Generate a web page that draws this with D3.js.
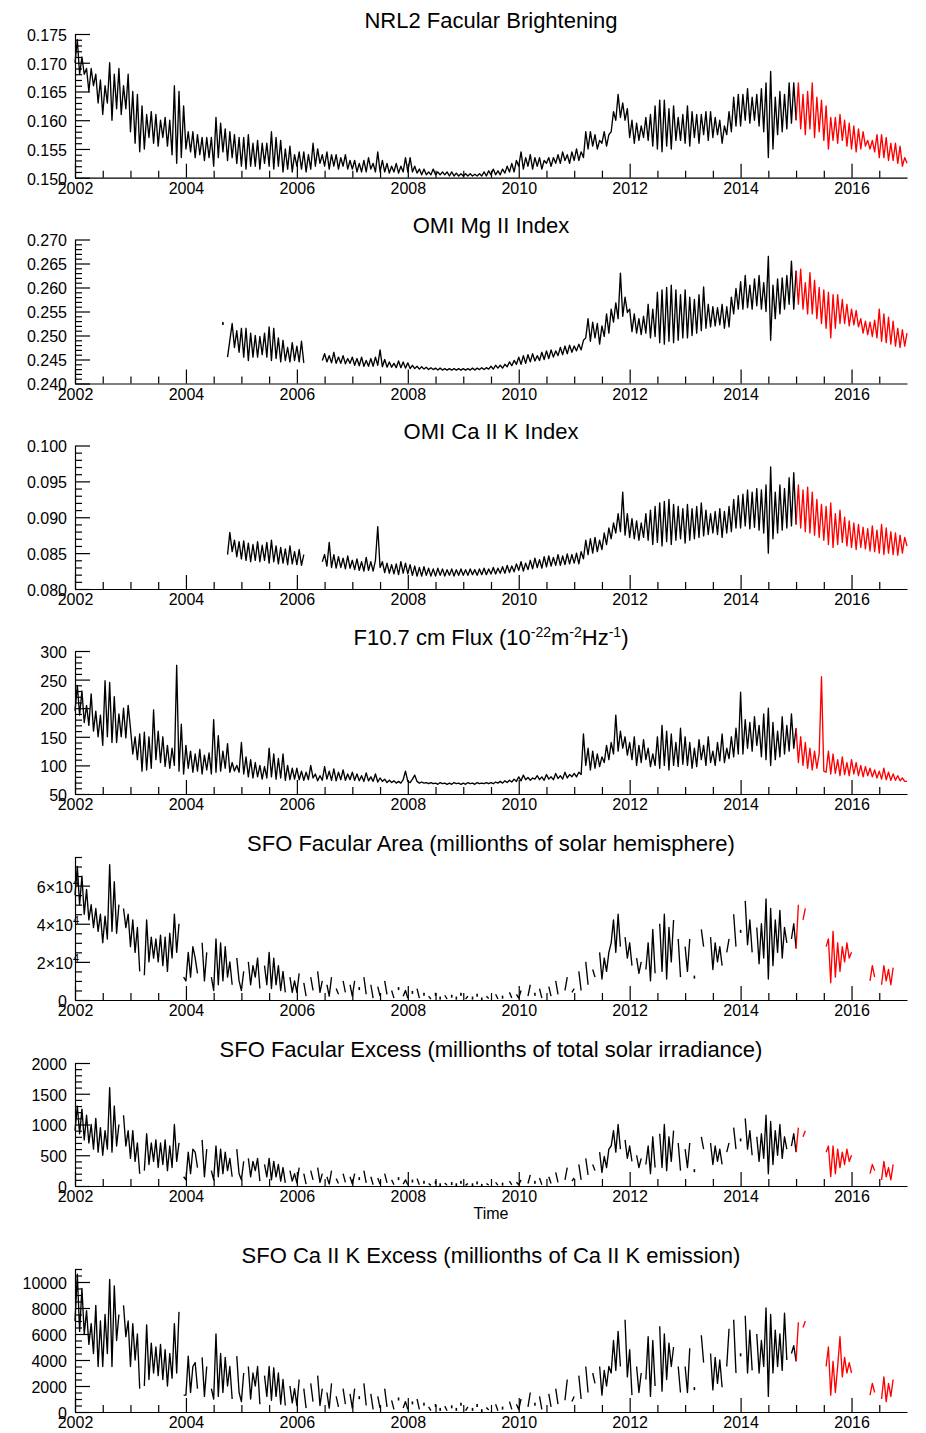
<!DOCTYPE html>
<html>
<head>
<meta charset="utf-8">
<script src="https://cdn.jsdelivr.net/npm/d3@7"></script>
<style>
  body { margin: 0; background: #fff; }
  svg text { font-family: "Liberation Sans", Arial, Helvetica, sans-serif; fill: #000; }
</style>
</head>
<body>
<svg id="chart" width="926" height="1433"></svg>
<script>
// Missing days are written as _ (null) so the line breaks there.
const _ = null;
// Samples are spaced 1/24 year apart (about half a month).
const STEP = 1 / 24;
// Samples from this date onward are drawn in red.
const SPLIT = 2015;

const xTicks = [2002, 2004, 2006, 2008, 2010, 2012, 2014, 2016];

// NRL2 facular brightening, from 2002.0
const nrl2Start = 2002;
const nrl2 = [
  .170,.174,.168,.171,.168,.169,.165,.169,.166,.168,.163,.167,.161,.166,.163,.170,.160,.168,.162,.169,.161,.166,.162,.168,
  .158,.165,.156,.1645,.1545,.1625,.155,.161,.157,.1615,.156,.161,.1555,.160,.157,.1605,.1555,.160,.154,.166,.1525,.165,.1535,.1625,
  .155,.158,.1545,.158,.1535,.1575,.154,.157,.153,.157,.1535,.157,.152,.1605,.1535,.1595,.1545,.1585,.153,.158,.1535,.1575,.1525,.157,
  .152,.157,.1515,.1575,.152,.156,.152,.1565,.1515,.156,.1525,.156,.152,.158,.1515,.157,.152,.1565,.151,.155,.1515,.1555,.151,.154,
  .152,.1545,.1515,.1545,.151,.154,.1515,.156,.152,.155,.1525,.154,.152,.1545,.1515,.154,.152,.154,.1515,.1535,.152,.154,.1515,.153,
  .1515,.153,.151,.1525,.151,.153,.151,.1535,.1515,.1525,.151,.1545,.151,.153,.151,.1525,.1508,.152,.151,.1525,.1508,.152,.151,.1535,
  .151,.1535,.151,.152,.1508,.1515,.1505,.1515,.1505,.151,.1505,.1515,.1505,.151,.1505,.151,.1505,.151,.1503,.151,.1503,.1508,.1503,.1507,
  .1503,.1507,.1503,.1507,.1503,.1506,.1503,.1507,.1503,.151,.1503,.1512,.1505,.1515,.1505,.1512,.1505,.1515,.1508,.152,.151,.1525,.151,.153,
  .152,.1545,.1515,.1535,.152,.154,.1515,.1535,.152,.1535,.1515,.153,.1525,.1535,.152,.1535,.1525,.154,.1525,.1545,.153,.154,.1525,.1545,
  .153,.155,.153,.1545,.1535,.158,.155,.158,.1555,.1575,.155,.1565,.156,.158,.1555,.1575,.158,.1615,.160,.1645,.1605,.163,.160,.162,
  .157,.160,.156,.1595,.1565,.159,.157,.1605,.1565,.161,.1555,.1625,.155,.1635,.1545,.1635,.1555,.162,.155,.1625,.1565,.1605,.1565,.161,
  .156,.1625,.1555,.1615,.157,.161,.156,.161,.1575,.1615,.1565,.1615,.157,.1605,.1575,.160,.156,.159,.1575,.1615,.158,.164,.159,.1645,
  .159,.1645,.160,.1655,.1595,.164,.160,.1645,.159,.1655,.158,.1665,.1535,.1685,.155,.164,.1575,.165,.158,.1645,.1585,.1665,.1595,.1665,
  .160,.1665,.1585,.1645,.1575,.165,.1585,.1665,.157,.164,.158,.1635,.1565,.1625,.155,.1605,.1565,.1605,.156,.161,.1565,.160,.1555,.1595,
  .155,.159,.1545,.1585,.155,.158,.1555,.1565,.155,.1565,.1545,.1575,.1535,.1575,.1535,.157,.153,.156,.153,.156,.1525,.1555,.152,.1535,
  .1525
];

// OMI Mg II index, from 2004.0
const omiMg2Start = 2004;
const omiMg2 = [
  _,_,_,_,_,_,_,_,_,_,_,_,_,_,_,_,.2525,_,.2455,.249,.2525,.2475,.251,.2465,
  .2515,.2455,.2515,.2448,.2505,.2455,.250,.2455,.2498,.246,.2505,.2455,.2518,.2448,.2515,.2452,.2495,.2445,.249,.2448,.2475,.2445,.2485,.2448,
  .2478,.2445,.2488,.2443,_,_,_,_,_,_,_,.2448,.2462,.2445,.2458,.2443,.2465,.2442,.2455,.2442,.2458,.2441,.2452,.2442,
  .2455,.2438,.2452,.2437,.2455,.2436,.2448,.2436,.2452,.2436,.2455,.2438,.247,.2435,.245,.2434,.2445,.2434,.2442,.2433,.2447,.2433,.2445,.2432,
  .2443,.2431,.2438,.2431,.2436,.243,.2435,.243,.2434,.2429,.2433,.2429,.2432,.2428,.2432,.2428,.2431,.2428,.2431,.2428,.2431,.2428,.2431,.2428,
  .2431,.2428,.2431,.2428,.2432,.2428,.2432,.2429,.2433,.2429,.2433,.243,.2436,.243,.2438,.2432,.2438,.2432,.244,.2435,.2445,.2437,.2448,.244,
  .2455,.244,.2458,.2442,.246,.2445,.2462,.2447,.2458,.2448,.2465,.245,.2468,.2452,.247,.2455,.2468,.2458,.2475,.246,.2478,.2462,.248,.2465,
  .2478,.2468,.2482,.247,.249,.2495,.2535,.2488,.2528,.2495,.2525,.2482,.252,.2498,.2545,.2505,.2555,.2528,.2568,.2535,.263,.254,.258,.2548,
  .2555,.2508,.2545,.2505,.2535,.2502,.254,.2505,.2565,.2495,.2555,.2498,.259,.2485,.2595,.2482,.260,.2488,.2605,.2485,.2595,.249,.2585,.2495,
  .2595,.2495,.258,.250,.2575,.2505,.2585,.251,.2601,.2515,.2565,.2518,.256,.252,.2558,.2522,.2565,.2515,.256,.2518,.258,.2545,.2598,.2555,
  .2612,.2555,.2625,.2558,.2605,.2555,.2618,.2562,.2625,.2555,.261,.255,.2665,.249,.2605,.2535,.2618,.2545,.262,.2555,.2625,.2565,.2655,.2555,
  .2635,.2565,.2638,.2555,.261,.2545,.2631,.2545,.2615,.2535,.260,.2525,.2595,.2515,.259,.2495,.2585,.2515,.2585,.2525,.2575,.2525,.2565,.252,
  .2555,.2522,.2552,.2518,.2535,.2505,.253,.2502,.2528,.2498,.2532,.2495,.2555,.2488,.2545,.2485,.2538,.2482,.253,.2478,.2515,.2475,.2512,.2478,
  .2505
];

// OMI Ca II K index, from 2004.0
const omiCaKStart = 2004;
const omiCaK = [
  _,_,_,_,_,_,_,_,_,_,_,_,_,_,_,_,_,_,.0848,.0879,.0852,.0868,.0845,.0866,
  .0842,.0867,.0840,.0864,.0838,.0862,.0840,.0866,.0838,.0861,.0840,.0865,.0836,.0868,.0838,.0860,.0835,.0858,.0836,.0856,.0834,.0860,.0835,.0852,
  .0834,.0855,.0833,.0848,_,_,_,_,_,_,_,.0838,.0848,.0832,.0865,.0830,.0848,.0829,.0845,.0830,.0843,.0828,.0846,.0829,
  .0840,.0827,.0842,.0826,.0838,.0825,.0844,.0826,.0838,.0825,.0840,.0887,.0830,.0838,.0823,.0836,.0822,.0834,.0821,.0835,.0820,.0838,.0822,.0836,
  .0821,.0834,.0819,.0832,.0818,.0830,.0818,.0831,.0819,.0829,.0818,.0828,.0818,.0829,.0819,.0828,.0818,.0827,.0819,.0828,.0818,.0827,.0819,.0828,
  .0819,.0827,.0819,.0828,.0820,.0827,.0819,.0828,.0820,.0829,.0820,.0828,.0821,.0830,.0821,.0829,.0822,.0831,.0822,.0833,.0823,.0832,.0824,.0835,
  .0826,.0838,.0825,.0836,.0827,.0840,.0828,.0843,.0830,.0841,.0829,.0845,.0831,.0846,.0832,.0844,.0833,.0848,.0833,.0846,.0834,.0849,.0835,.0848,
  .0836,.0850,.0835,.0852,.0842,.0868,.0848,.0870,.0850,.0872,.0852,.0868,.0855,.0878,.0862,.0885,.0870,.0892,.0878,.0905,.0880,.0935,.0875,.0905,
  .0872,.0898,.0870,.0895,.0868,.0892,.0872,.0905,.0868,.0910,.0862,.0915,.0865,.0920,.0860,.0922,.0866,.0925,.0862,.0918,.0868,.0915,.0870,.0912,
  .0864,.0918,.0868,.0912,.0870,.0915,.0872,.0920,.0874,.0910,.0876,.0905,.0878,.0908,.0876,.0912,.0872,.0908,.0878,.0915,.0880,.0925,.0885,.0930,
  .0885,.0932,.0888,.0938,.0884,.0935,.0886,.0940,.0882,.0938,.0878,.0945,.0850,.0970,.0870,.0935,.0878,.0945,.0882,.0940,.0885,.0955,.0888,.0962,
  .0890,.0945,.0885,.0938,.0880,.0942,.0878,.0935,.0875,.0925,.0872,.0918,.0868,.0915,.0862,.0920,.0858,.0905,.0862,.0910,.0865,.0900,.0860,.0895,
  .0858,.0892,.0855,.0890,.0858,.0886,.0856,.0884,.0853,.0888,.0852,.0882,.0850,.0890,.0848,.0885,.0850,.0880,.0848,.0878,.0847,.0875,.0850,.0872,
  .0860
];

// F10.7 cm radio flux, from 2002.0
const f107Start = 2002;
const f107 = [
  195,240,188,230,175,205,170,225,160,195,150,188,135,248,150,245,140,220,140,190,150,200,148,205,
  165,120,150,110,155,90,158,92,150,95,197,110,160,105,150,98,135,95,130,100,275,90,172,85,
  135,95,125,88,120,90,128,85,118,92,122,85,180,88,152,90,125,95,138,88,105,90,100,88,
  140,85,115,80,110,78,105,80,100,76,98,78,130,80,120,76,112,78,120,74,100,75,95,76,
  95,75,90,74,88,75,100,78,85,73,82,74,98,76,90,74,94,73,88,75,92,74,85,75,
  88,74,85,73,82,72,87,73,80,72,85,71,78,72,76,70,74,70,73,69,72,69,75,90,
  72,70,76,83,72,69,71,69,70,68,70,68,69,67,70,68,69,67,69,67,70,68,69,67,
  69,67,70,68,69,67,70,68,69,68,70,68,70,68,71,69,72,69,73,70,74,71,76,72,
  80,73,83,75,79,74,78,76,82,75,80,74,84,76,80,75,86,77,82,76,88,78,84,80,
  86,80,88,84,155,100,130,92,125,95,120,98,115,105,135,110,140,120,188,125,160,130,150,118,
  140,110,150,100,135,105,145,110,130,98,120,100,150,95,170,100,160,92,155,100,140,98,165,102,
  150,100,140,95,130,98,145,110,135,100,150,105,125,100,140,108,155,105,130,112,150,115,165,120,
  228,120,180,130,175,125,185,135,170,115,190,110,200,100,175,110,160,115,185,120,170,125,190,130,
  165,105,150,100,140,95,130,92,125,95,120,255,90,88,125,85,120,86,110,82,115,84,105,82,
  110,85,105,82,100,80,98,82,95,80,92,78,90,76,95,75,88,74,85,74,82,73,78,72,
  72
];

// SFO facular area, millionths of solar hemisphere, from 2002.0
const sfoAreaStart = 2002;
const sfoArea = [
  55000,70000,50000,65000,45000,58000,42000,50000,38000,48000,36000,45000,30000,44000,32000,71000,36000,62000,35000,50000,_,48000,38000,45000,
  28000,42000,25000,38000,15000,_,13000,42000,20000,33000,22000,32000,20000,34000,18000,33000,15000,35000,22000,45000,25000,40000,_,12000,
  10000,25000,12000,28000,22000,14000,_,30000,10000,25000,_,12000,5000,32000,8000,30000,10000,28000,12000,20000,8000,_,22000,10000,
  5000,15000,_,20000,8000,18000,12000,22000,6000,_,18000,8000,25000,6000,22000,8000,18000,5000,15000,4000,_,12000,4000,10000,
  4000,14000,_,9000,2000,_,12000,5000,_,15000,4000,10000,_,8000,2000,12000,_,6000,3000,_,10000,4000,_,8000,
  2000,10000,_,6000,_,12000,3000,_,8000,1000,_,7000,2000,_,10000,3000,_,5000,1000,_,6000,_,2000,5000,
  1000,_,4000,_,6000,1000,_,3000,_,2000,500,_,3000,_,1000,_,2500,500,_,2000,_,1000,_,3000,
  _,500,2000,_,1000,_,2500,_,500,_,2000,800,_,_,3000,500,_,1500,_,_,4000,1000,_,3000,
  1000,5000,_,_,2000,8000,_,3000,_,6000,1000,_,_,7000,2000,_,10000,3000,_,_,5000,12000,_,4000,
  6000,_,15000,5000,_,20000,8000,_,16000,12000,_,25000,11000,22000,15000,25000,30000,42000,25000,45000,28000,_,33000,22000,
  30000,18000,_,22000,14000,20000,_,16000,30000,10000,37000,14000,_,40000,15000,45000,11000,38000,20000,42000,_,32000,12000,_,
  28000,15000,32000,_,12000,_,_,37000,28000,_,_,33000,16000,30000,20000,28000,18000,_,25000,32000,_,45000,28000,_,
  36000,_,52000,29000,42000,25000,_,38000,19000,40000,22000,53000,11000,48000,18000,42000,25000,47000,22000,38000,30000,_,32000,40000,
  27000,50000,_,42000,48000,_,_,_,_,_,_,_,_,28000,32000,9000,36000,12000,30000,15000,28000,20000,30000,22000,
  25000,_,_,_,_,_,_,_,10000,18000,12000,_,_,8000,18000,10000,16000,8000,17000,_,_,_,_,_
];

// SFO facular excess, millionths of total solar irradiance, from 2002.0
const sfoExcessStart = 2002;
const sfoExcess = [
  900,1300,850,1250,750,1150,700,1000,600,1100,550,950,500,900,600,1600,550,1300,650,1000,_,1150,650,900,
  450,900,400,700,200,_,250,850,350,700,400,750,300,700,350,750,250,650,300,1000,400,700,_,150,
  100,550,200,600,550,300,_,750,150,600,_,250,100,650,150,600,200,550,250,450,150,_,600,200,
  100,400,_,450,150,400,250,450,80,_,350,150,450,100,400,150,350,80,300,50,_,250,80,200,
  50,300,_,200,30,_,250,100,_,300,60,200,_,150,30,250,_,120,40,_,200,60,_,150,
  30,200,_,120,_,250,50,_,150,20,_,130,30,_,200,50,_,100,20,_,120,_,30,100,
  20,_,80,_,120,20,_,60,_,40,10,_,60,_,20,_,50,10,_,40,_,20,_,60,
  _,10,40,_,20,_,50,_,10,_,40,15,_,_,60,10,_,30,_,_,80,20,_,60,
  20,100,_,_,40,180,_,60,_,130,20,_,_,150,40,_,220,60,_,_,100,300,_,80,
  130,_,350,100,_,450,180,_,350,250,_,550,220,480,300,600,650,900,550,1000,600,_,750,450,
  650,400,_,500,300,450,_,350,650,200,800,300,_,850,300,1000,250,800,400,900,_,700,250,_,
  600,300,700,_,250,_,_,800,600,_,_,700,350,650,400,600,350,_,550,700,_,950,600,_,
  750,_,1100,600,900,500,_,800,400,850,450,1150,200,1050,350,900,500,1000,450,800,600,_,650,850,
  550,950,_,800,900,_,_,_,_,_,_,_,_,550,650,150,650,200,600,300,550,350,600,400,
  500,_,_,_,_,_,_,_,200,350,250,_,_,100,400,150,300,100,350,_,_,_,_,_
];

// SFO Ca II K excess, millionths of Ca II K emission, from 2002.0
const sfoCaKStart = 2002;
const sfoCaK = [
  7000,10600,6200,9500,6000,7800,5200,6800,4500,8200,3500,7000,3500,7500,4500,10200,3500,9700,5500,7500,_,8200,5800,7000,
  3500,6800,4000,6000,1800,_,2000,6700,2500,5300,3000,5000,2800,5200,2500,4800,2000,4500,2600,6800,3000,7700,_,1300,
  1300,4300,1500,3500,3800,1800,_,4200,1200,3500,_,1800,1000,6000,1200,4500,1500,4200,2000,3500,1000,_,4300,1500,
  800,3000,_,3500,1000,3000,2000,3500,600,_,2800,1200,3500,900,3400,1200,3000,600,2500,500,_,2000,700,1800,
  500,2500,_,1800,300,_,2200,800,_,2800,500,1800,_,1500,300,2200,_,1200,400,_,1800,600,_,1400,
  300,1800,_,1100,_,2200,500,_,1400,200,_,1200,300,_,1800,400,_,900,200,_,1000,_,300,800,
  200,_,700,_,1000,200,_,600,_,400,100,_,500,_,200,_,450,100,_,400,_,200,_,600,
  _,100,400,_,200,_,500,_,100,_,350,150,_,_,600,100,_,300,_,_,800,200,_,600,
  200,1000,_,_,400,1500,_,600,_,1200,200,_,_,1400,400,_,1800,600,_,_,900,2500,_,800,
  1200,_,2800,1000,_,3500,1500,_,3000,2200,_,3500,1300,3200,2000,3500,3000,5500,3200,6200,3500,_,7100,2700,
  4800,1300,_,3500,1500,3000,_,2500,5800,1200,5500,2000,_,6600,1600,6000,2500,5300,3500,5000,_,3500,1500,_,
  3500,1500,4900,_,1800,_,_,5900,3800,_,_,4500,1700,4200,2200,4000,1900,_,3500,6400,_,7100,3000,_,
  4400,_,7400,3000,6300,3200,_,6000,3000,5500,3500,8000,1200,7500,3000,6300,3500,6000,3200,7600,4000,_,4500,5100,
  3900,6900,_,6500,7000,_,_,_,_,_,_,_,_,3500,5000,1300,3900,1500,3500,5800,2700,4200,3000,3800,
  3000,_,_,_,_,_,_,_,1300,2200,1500,_,_,1000,2700,800,2200,1200,2500,_,_,_,_,_
];

// y-axis labelled ticks for each panel
const nrl2Ticks = [0.150, 0.155, 0.160, 0.165, 0.170, 0.175];
const omiMg2Ticks = [0.240, 0.245, 0.250, 0.255, 0.260, 0.265, 0.270];
const omiCaKTicks = [0.080, 0.085, 0.090, 0.095, 0.100];
const f107Ticks = [50, 100, 150, 200, 250, 300];
const sfoAreaTicks = [0, 20000, 40000, 60000];
const sfoExcessTicks = [0, 500, 1000, 1500, 2000];
const sfoCaKTicks = [0, 2000, 4000, 6000, 8000, 10000];

const FONT = '"Liberation Sans", Arial, Helvetica, sans-serif';
const svg = d3.select('#chart');
const x = d3.scaleLinear().domain([2002, 2017]).range([75, 907]);
const xMinor = d3.range(2002.5, 2017, 0.5).filter(v => !xTicks.includes(v));

const fmt3 = d3.format('.3f');
const fmtInt = d3.format('d');

const panels = [
  { title: [['NRL2 Facular Brightening']], data: nrl2, start: nrl2Start,
    top: 34, bottom: 177.7, domain: [0.150, 0.175], ticks: nrl2Ticks, minorStep: 0.001, format: fmt3 },
  { title: [['OMI Mg II Index']], data: omiMg2, start: omiMg2Start,
    top: 239.5, bottom: 383.5, domain: [0.240, 0.270], ticks: omiMg2Ticks, minorStep: 0.001, format: fmt3 },
  { title: [['OMI Ca II K Index']], data: omiCaK, start: omiCaKStart,
    top: 445.5, bottom: 589, domain: [0.080, 0.100], ticks: omiCaKTicks, minorStep: 0.001, format: fmt3 },
  { title: [['F10.7 cm Flux (10'], ['-22', true], ['m'], ['-2', true], ['Hz'], ['-1', true], [')']],
    data: f107, start: f107Start,
    top: 651, bottom: 794, domain: [50, 300], ticks: f107Ticks, minorStep: 10, format: fmtInt },
  { title: [['SFO Facular Area (millionths of solar hemisphere)']], data: sfoArea, start: sfoAreaStart,
    top: 857, bottom: 1000, domain: [0, 75000], ticks: sfoAreaTicks, minorStep: 5000, format: 'power' },
  { title: [['SFO Facular Excess (millionths of total solar irradiance)']], data: sfoExcess, start: sfoExcessStart,
    top: 1063, bottom: 1186, domain: [0, 2000], ticks: sfoExcessTicks, minorStep: 100, format: fmtInt },
  { title: [['SFO Ca II K Excess (millionths of Ca II K emission)']], data: sfoCaK, start: sfoCaKStart,
    top: 1269, bottom: 1412, domain: [0, 11000], ticks: sfoCaKTicks, minorStep: 500, format: fmtInt }
];

function styleAxis(g) {
  g.attr('font-family', FONT).attr('font-size', 16);
  g.selectAll('.domain').attr('stroke', '#000').attr('stroke-width', 1.2);
  g.selectAll('.tick line').attr('stroke', '#000').attr('stroke-width', 1.2);
  g.selectAll('.tick text').attr('fill', '#000');
}

panels.forEach(p => {
  const y = d3.scaleLinear().domain(p.domain).range([p.bottom, p.top]);
  const g = svg.append('g');

  // title, with superscript pieces raised
  const title = g.append('text')
    .attr('x', 491).attr('y', p.top - 6.5)
    .attr('text-anchor', 'middle').attr('font-size', 22);
  let raised = false;
  p.title.forEach(([txt, sup]) => {
    const t = title.append('tspan').text(txt);
    if (sup && !raised) { t.attr('dy', -8).attr('font-size', 14); raised = true; }
    else if (sup) { t.attr('font-size', 14); }
    else if (raised) { t.attr('dy', 8); raised = false; }
  });

  // series line, split into a black part and a red part
  const pts = p.data.map((v, i) => ({ t: p.start + i * STEP, v }));
  const splitIdx = pts.findIndex(d => d.t >= SPLIT - 1e-9);
  const line = d3.line()
    .defined(d => d.v != null)
    .x(d => x(d.t))
    .y(d => y(d.v));
  const parts = [
    { pts: pts.slice(0, splitIdx + 1), color: '#000' },
    { pts: pts.slice(splitIdx), color: '#ff0000' }
  ];
  parts.forEach(part => {
    g.append('path')
      .attr('d', line(part.pts))
      .attr('fill', 'none')
      .attr('stroke', part.color)
      .attr('stroke-width', 1.35)
      .attr('stroke-linejoin', 'round');
  });

  // lone samples with no neighbour on either side show as small dots
  const lone = pts.filter((d, i) => d.v != null &&
    (i === 0 || pts[i - 1].v == null) && (i === pts.length - 1 || pts[i + 1].v == null));
  g.selectAll('rect.lone').data(lone).enter().append('rect')
    .attr('class', 'lone')
    .attr('x', d => x(d.t) - 0.8).attr('y', d => y(d.v) - 1.5)
    .attr('width', 1.6).attr('height', 3)
    .attr('fill', d => d.t >= SPLIT - 1e-9 ? '#ff0000' : '#000');

  // x axis: minor and major ticks pointing into the plot
  const gxMinor = g.append('g').attr('transform', `translate(0,${p.bottom})`)
    .call(d3.axisBottom(x).tickValues(xMinor).tickSize(-7).tickSizeOuter(0).tickFormat(() => ''));
  gxMinor.select('.domain').remove();
  styleAxis(gxMinor);
  const gx = g.append('g').attr('transform', `translate(0,${p.bottom})`)
    .call(d3.axisBottom(x).tickValues(xTicks).tickSize(-14).tickSizeOuter(0).tickPadding(5).tickFormat(fmtInt));
  styleAxis(gx);

  // y axis: minor and major ticks
  const [lo, hi] = p.domain;
  const minors = d3.range(Math.round((hi - lo) / p.minorStep) + 1)
    .map(k => lo + k * p.minorStep)
    .filter(v => !p.ticks.some(t => Math.abs(t - v) < p.minorStep * 1e-3));
  const gyMinor = g.append('g').attr('transform', 'translate(75,0)')
    .call(d3.axisLeft(y).tickValues(minors).tickSize(-7).tickSizeOuter(0).tickFormat(() => ''));
  gyMinor.select('.domain').remove();
  styleAxis(gyMinor);

  const gy = g.append('g').attr('transform', 'translate(75,0)')
    .call(d3.axisLeft(y).tickValues(p.ticks).tickSize(-15).tickSizeOuter(0).tickPadding(8)
      .tickFormat(p.format === 'power' ? fmtInt : p.format));
  styleAxis(gy);
  gy.selectAll('.tick text').attr('dy', '0.4em');

  if (p.format === 'power') {
    // labels written as m×10^4
    gy.selectAll('.tick text').each(function (d) {
      const t = d3.select(this);
      if (d === 0) return;
      t.text(null).attr('x', 4);
      t.append('tspan').text(`${d / 1e4}×10`);
      t.append('tspan').attr('dy', -7).attr('font-size', 11).text('4');
    });
  }
});

// shared x-axis caption
svg.append('text')
  .attr('x', 491).attr('y', 1219)
  .attr('text-anchor', 'middle')
  .attr('font-size', 16)
  .text('Time');
</script>
</body>
</html>
